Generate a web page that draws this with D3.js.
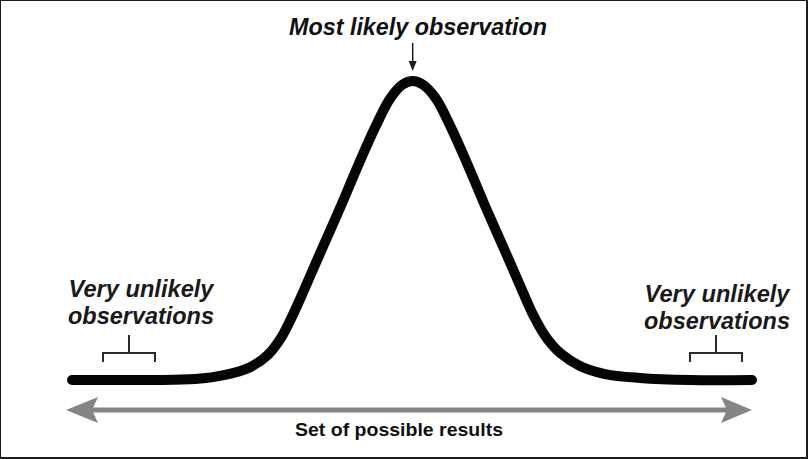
<!DOCTYPE html>
<html>
<head>
<meta charset="utf-8">
<script src="https://cdn.jsdelivr.net/npm/d3@7"></script>
<style>
  html, body { margin: 0; padding: 0; background: #fff; }
  svg { display: block; }
  text { font-family: "Liberation Sans", Arial, sans-serif; }
</style>
</head>
<body>
<svg id="chart" width="808" height="459"></svg>
<script>
// Data: relative position of result (0-100) vs. relative likelihood (0-100)
const curveX = [0, 11.5, 18.1, 22.5, 26.2, 28.8, 30.9, 32.4, 34.0, 36.5, 39.3, 42.1, 44.6, 46.8, 48.6, 50.1, 51.6, 53.5, 55.7, 58.2, 61.0, 63.8, 66.3, 67.9, 69.6, 71.8, 74.7, 78.4, 83.5, 90.9, 100];
const curveY = [0, 0, 0.3, 1.7, 4.3, 8.4, 14.7, 21.4, 29.4, 42.5, 56.9, 71.9, 84.6, 94.2, 98.8, 100, 98.8, 94.2, 84.6, 71.9, 56.9, 42.5, 29.4, 21.4, 14.7, 9.0, 4.7, 2.0, 0.7, 0, 0];
const topLabel = "Most likely observation";
const tailLabel = ["Very unlikely", "observations"];
const axisLabel = "Set of possible results";

const svg = d3.select("#chart");
const W = 808, H = 459;

const x = d3.scaleLinear().domain([0, 100]).range([72, 752]);
const y = d3.scaleLinear().domain([0, 100]).range([380, 81]);

// frame
svg.append("rect").attr("x", 0).attr("y", 0).attr("width", W).attr("height", H).attr("fill", "#fff");
svg.append("rect").attr("x", 0.5).attr("y", 0.5).attr("width", W - 2).attr("height", H - 2)
  .attr("fill", "none").attr("stroke", "#1c1c1c").attr("stroke-width", 1);
svg.append("rect").attr("x", W - 2).attr("y", 0).attr("width", 2).attr("height", H).attr("fill", "#1c1c1c");
svg.append("rect").attr("x", 0).attr("y", H - 2).attr("width", W).attr("height", 2).attr("fill", "#1c1c1c");

// bell curve
const pts = curveX.map((d, i) => [d, curveY[i]]);
const line = d3.line().x(d => x(d[0])).y(d => y(d[1])).curve(d3.curveCatmullRom.alpha(0.5));
svg.append("path").datum(pts).attr("d", line)
  .attr("fill", "none").attr("stroke", "#050505").attr("stroke-width", 10)
  .attr("stroke-linecap", "round").attr("stroke-linejoin", "round");

// gray double-headed arrow (axis of results)
const ay = 410;
const gray = "#858585";
svg.append("line").attr("x1", x(0) + 20).attr("x2", x(100) - 20).attr("y1", ay).attr("y2", ay)
  .attr("stroke", gray).attr("stroke-width", 5);
const lt = x(0) - 6, rt = x(100);
svg.append("path").attr("d", `M${lt},${ay} L${lt + 32},${ay - 13} L${lt + 26},${ay} L${lt + 32},${ay + 13} Z`).attr("fill", gray);
svg.append("path").attr("d", `M${rt},${ay} L${rt - 31},${ay - 13} L${rt - 25},${ay} L${rt - 31},${ay + 13} Z`).attr("fill", gray);

svg.append("text").attr("x", 399).attr("y", 436).attr("text-anchor", "middle")
  .attr("font-size", 19).attr("font-weight", "bold").attr("fill", "#111")
  .attr("textLength", 208).attr("lengthAdjust", "spacingAndGlyphs").text(axisLabel);

// top label and arrow
svg.append("text").attr("x", 418).attr("y", 35).attr("text-anchor", "middle")
  .attr("font-size", 23).attr("font-weight", "bold").attr("font-style", "italic").attr("fill", "#111")
  .attr("textLength", 258).attr("lengthAdjust", "spacingAndGlyphs").text(topLabel);
const px = x(50.1);
svg.append("line").attr("x1", px).attr("x2", px).attr("y1", 43).attr("y2", 62)
  .attr("stroke", "#1a1a1a").attr("stroke-width", 1.5);
svg.append("path").attr("d", `M${px - 4},${61} L${px + 4},${61} L${px},${71} Z`).attr("fill", "#1a1a1a");

// tail labels
function tailText(cx, y1, y2) {
  const g = svg.append("g").attr("fill", "#1a1a1a").attr("font-size", 23)
    .attr("font-weight", "bold").attr("font-style", "italic");
  g.append("text").attr("x", cx).attr("y", y1).attr("text-anchor", "middle")
    .attr("textLength", 145).attr("lengthAdjust", "spacingAndGlyphs").text(tailLabel[0]);
  g.append("text").attr("x", cx).attr("y", y2).attr("text-anchor", "middle")
    .attr("textLength", 146).attr("lengthAdjust", "spacingAndGlyphs").text(tailLabel[1]);
}
tailText(141, 297, 324);
tailText(717, 302, 329);

// brackets
function bracket(x1, x2) {
  const mid = (x1 + x2) / 2;
  svg.append("path").attr("d", `M${x1},362 L${x1},353 L${x2},353 L${x2},362 M${mid},353 L${mid},335`)
    .attr("fill", "none").attr("stroke", "#2a2a2a").attr("stroke-width", 2);
}
bracket(103, 155);
bracket(690, 742);
</script>
</body>
</html>
